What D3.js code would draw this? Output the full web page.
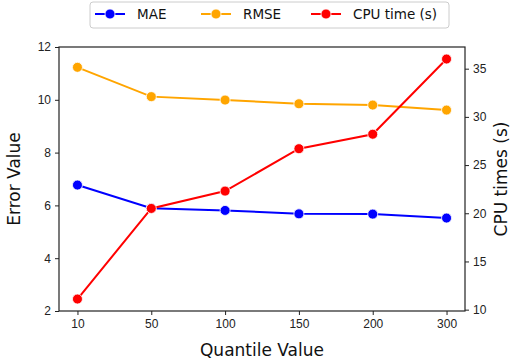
<!DOCTYPE html>
<html>
<head>
<meta charset="utf-8">
<script src="https://cdn.jsdelivr.net/npm/d3@7"></script>
<style>
  body { margin: 0; background: #fff; }
  svg { font-family: "DejaVu Sans", sans-serif; }
</style>
</head>
<body>
<svg id="chart" width="514" height="362"></svg>
<script>
var quantiles = ["10", "50", "100", "150", "200", "300"];
var mae = [6.77, 5.89, 5.81, 5.68, 5.67, 5.52];
var rmse = [11.23, 10.12, 9.99, 9.85, 9.80, 9.61];
var cpuTime = [11.1, 20.5, 22.3, 26.7, 28.2, 36.0];
var leftTicks = [2, 4, 6, 8, 10, 12];
var rightTicks = [10, 15, 20, 25, 30, 35];

var svg = d3.select("#chart"),
    plotLeft = 59, plotRight = 465, plotTop = 47, plotBottom = 311;

var x = d3.scaleLinear().domain([-0.25, quantiles.length - 0.75]).range([plotLeft, plotRight]);
var yL = d3.scaleLinear().domain([2, 12]).range([plotBottom, plotTop]);
var yR = d3.scaleLinear().domain([9.86, 37.25]).range([plotBottom, plotTop]);

// axes
var xAxis = svg.append("g")
    .attr("transform", "translate(0," + plotBottom + ")")
    .call(d3.axisBottom(x).tickValues(d3.range(quantiles.length))
      .tickFormat(function(i) { return quantiles[i]; }).tickSize(4).tickPadding(4));
var lAxis = svg.append("g")
    .attr("transform", "translate(" + plotLeft + ",0)")
    .call(d3.axisLeft(yL).tickValues(leftTicks).tickSize(4).tickPadding(4));
var rAxis = svg.append("g")
    .attr("transform", "translate(" + plotRight + ",0)")
    .call(d3.axisRight(yR).tickValues(rightTicks).tickSize(4).tickPadding(4));

[xAxis, lAxis, rAxis].forEach(function(a) {
  a.select(".domain").remove();
  a.selectAll("text").attr("font-size", 12).attr("fill", "#222");
  a.selectAll("line").attr("stroke", "#222");
});

// frame
svg.append("rect")
    .attr("x", plotLeft).attr("y", plotTop)
    .attr("width", plotRight - plotLeft).attr("height", plotBottom - plotTop)
    .attr("fill", "none").attr("stroke", "#222").attr("stroke-width", 1.2);

var series = [
  { name: "MAE", values: mae, color: "blue", y: yL },
  { name: "RMSE", values: rmse, color: "orange", y: yL },
  { name: "CPU time (s)", values: cpuTime, color: "red", y: yR }
];

series.forEach(function(s) {
  var line = d3.line()
      .x(function(d, i) { return x(i); })
      .y(function(d) { return s.y(d); });
  svg.append("path")
      .datum(s.values)
      .attr("d", line)
      .attr("fill", "none")
      .attr("stroke", s.color)
      .attr("stroke-width", 2);
  svg.append("g").selectAll("circle")
      .data(s.values)
      .enter().append("circle")
      .attr("cx", function(d, i) { return x(i); })
      .attr("cy", function(d) { return s.y(d); })
      .attr("r", 5)
      .attr("fill", s.color)
      .attr("stroke", "#fff")
      .attr("stroke-width", 0.8);
});

// axis labels
svg.append("text")
    .attr("x", (plotLeft + plotRight) / 2).attr("y", 356)
    .attr("text-anchor", "middle").attr("font-size", 17).attr("fill", "#111")
    .text("Quantile Value");
svg.append("text")
    .attr("transform", "translate(20," + ((plotTop + plotBottom) / 2) + ") rotate(-90)")
    .attr("text-anchor", "middle").attr("font-size", 17).attr("fill", "#111")
    .text("Error Value");
svg.append("text")
    .attr("transform", "translate(507," + ((plotTop + plotBottom) / 2) + ") rotate(-90)")
    .attr("text-anchor", "middle").attr("font-size", 17).attr("fill", "#111")
    .text("CPU times (s)");

// legend
var legend = svg.append("g");
legend.append("rect")
    .attr("x", 90).attr("y", 2).attr("width", 359).attr("height", 26).attr("rx", 3)
    .attr("fill", "#fff").attr("stroke", "#ccc").attr("stroke-width", 1);
var legendX = [95, 201, 311];
series.forEach(function(s, i) {
  var g = legend.append("g").attr("transform", "translate(" + legendX[i] + ",14)");
  g.append("line").attr("x1", 0).attr("x2", 30).attr("stroke", s.color).attr("stroke-width", 2);
  g.append("circle").attr("cx", 15).attr("r", 5).attr("fill", s.color)
      .attr("stroke", "#fff").attr("stroke-width", 0.8);
  g.append("text").attr("x", 42).attr("y", 5).attr("font-size", 13.5).attr("fill", "#111")
      .text(s.name);
});
</script>
</body>
</html>
